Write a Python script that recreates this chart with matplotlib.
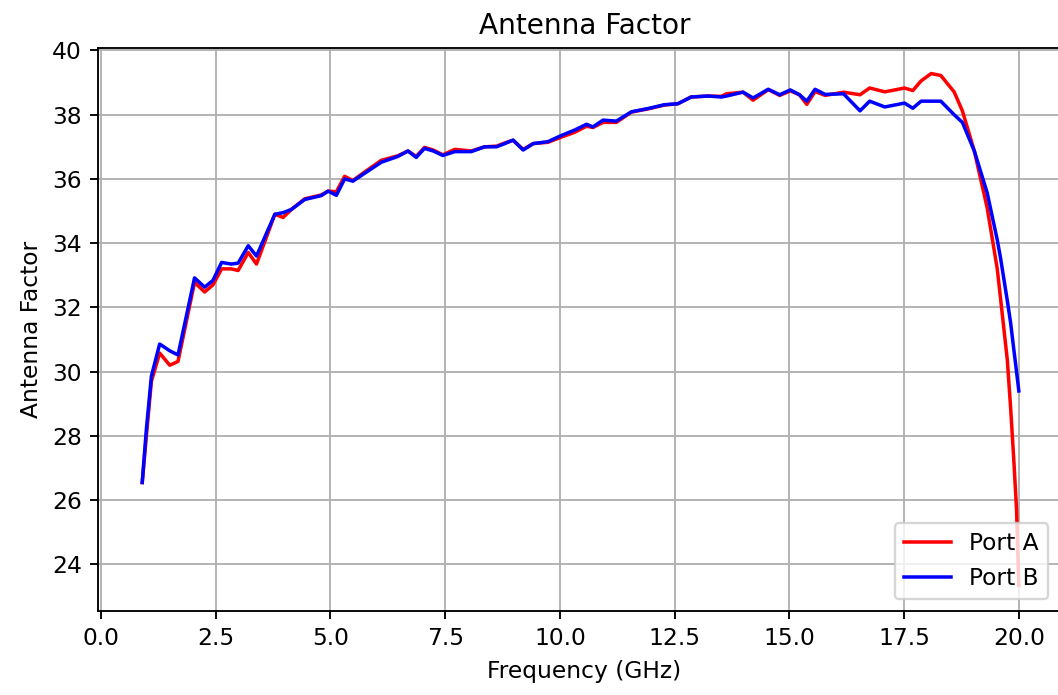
import numpy as np
import matplotlib
matplotlib.use('Agg')
import matplotlib.pyplot as plt

# values
freq_ghz = [0.90, 0.99, 1.10, 1.28, 1.50, 1.68, 2.04, 2.26, 2.44, 2.63,
            2.84, 2.99, 3.21, 3.39, 3.79, 3.97, 4.15, 4.44, 4.80, 4.95,
            5.13, 5.31, 5.49, 5.75, 6.11, 6.47, 6.69, 6.87, 7.05, 7.24,
            7.45, 7.71, 8.07, 8.36, 8.62, 8.80, 8.98, 9.20, 9.42, 9.74,
            10.03, 10.32, 10.58, 10.72, 10.94, 11.23, 11.56, 11.92, 12.28, 12.57,
            12.86, 13.23, 13.52, 13.63, 13.99, 14.21, 14.54, 14.79, 15.02, 15.22,
            15.38, 15.56, 15.78, 16.18, 16.54, 16.75, 17.08, 17.51, 17.69, 17.87,
            18.09, 18.30, 18.59, 18.77, 19.03, 19.31, 19.53, 19.60, 19.75, 19.82,
            19.89, 19.95, 20.00]

port_a = [26.55, 28.00, 29.70, 30.58, 30.20, 30.32, 32.78, 32.48, 32.70, 33.20,
          33.20, 33.15, 33.71, 33.35, 34.90, 34.80, 35.05, 35.38, 35.50, 35.62,
          35.60, 36.08, 35.95, 36.22, 36.58, 36.72, 36.87, 36.70, 36.98, 36.90,
          36.75, 36.92, 36.87, 37.00, 37.02, 37.12, 37.20, 36.92, 37.10, 37.14,
          37.30, 37.45, 37.64, 37.60, 37.76, 37.76, 38.08, 38.18, 38.30, 38.34,
          38.55, 38.58, 38.57, 38.65, 38.70, 38.45, 38.78, 38.60, 38.74, 38.62,
          38.32, 38.72, 38.60, 38.70, 38.62, 38.83, 38.71, 38.83, 38.75, 39.05,
          39.28, 39.22, 38.71, 38.12, 36.87, 35.10, 33.20, 32.30, 30.35, 28.90,
          27.26, 25.72, 23.35]

port_b = [26.55, 28.20, 29.86, 30.86, 30.65, 30.52, 32.92, 32.63, 32.84, 33.40,
          33.35, 33.38, 33.92, 33.60, 34.90, 34.95, 35.05, 35.36, 35.48, 35.62,
          35.49, 36.00, 35.93, 36.18, 36.52, 36.70, 36.87, 36.67, 36.95, 36.87,
          36.73, 36.85, 36.85, 37.00, 37.00, 37.10, 37.21, 36.90, 37.10, 37.16,
          37.35, 37.52, 37.70, 37.62, 37.83, 37.80, 38.09, 38.19, 38.31, 38.34,
          38.55, 38.58, 38.55, 38.58, 38.70, 38.52, 38.79, 38.62, 38.77, 38.62,
          38.42, 38.79, 38.63, 38.65, 38.12, 38.42, 38.24, 38.36, 38.20, 38.42,
          38.42, 38.42, 38.00, 37.76, 36.87, 35.57, 34.10, 33.55, 32.20, 31.53,
          30.70, 30.00, 29.40]

dpi = 168
fig = plt.figure(figsize=(1058/dpi, 695/dpi), dpi=dpi)
# the reference is cropped on the right, so the axes run past the edge
ax = fig.add_axes([0.093, 0.121, 0.919, 0.810])

ax.plot(freq_ghz, port_a, color='red', label='Port A')
ax.plot(freq_ghz, port_b, color='blue', label='Port B')

ax.set_xlim(-0.055, 21.13)
ax.set_title('Antenna Factor')
ax.set_xlabel('Frequency (GHz)')
ax.set_ylabel('Antenna Factor')
ax.grid(True)
ax.legend(loc='lower right', bbox_to_anchor=(0.989, 0.0))

fig.savefig('out.png', dpi=dpi)
